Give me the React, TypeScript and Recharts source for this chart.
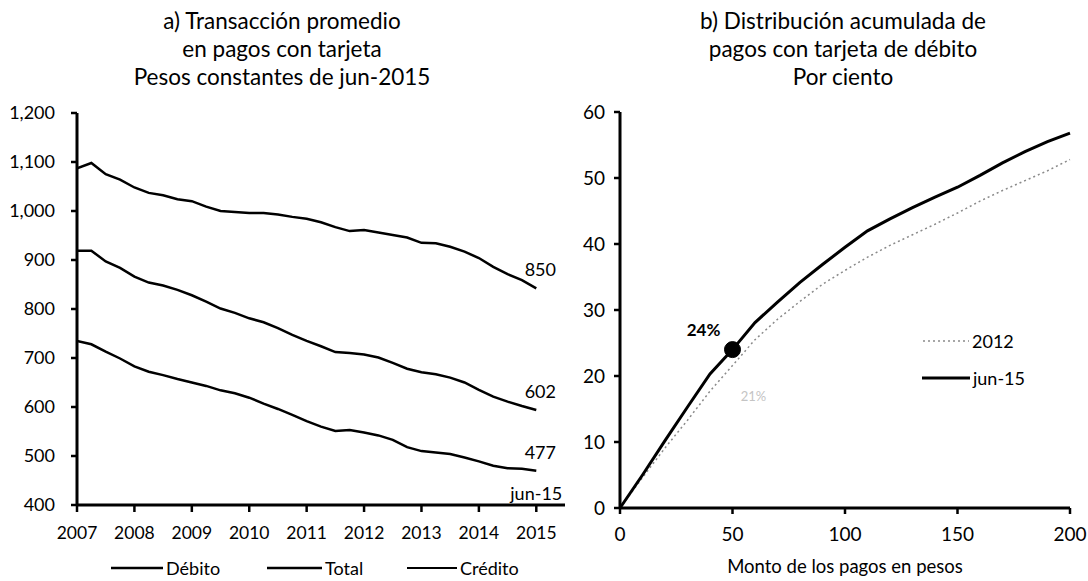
import { LineChart, Line, XAxis, YAxis, ReferenceDot } from 'recharts'

// panel a) average ticket, constant pesos of jun-2015 (quarterly readings)
const QUARTERS = [2007, 2007.25, 2007.5, 2007.75, 2008, 2008.25, 2008.5, 2008.75, 2009, 2009.25, 2009.5, 2009.75, 2010, 2010.25, 2010.5, 2010.75, 2011, 2011.25, 2011.5, 2011.75, 2012, 2012.25, 2012.5, 2012.75, 2013, 2013.25, 2013.5, 2013.75, 2014, 2014.25, 2014.5, 2014.75, 2015]
const CREDITO = [1087, 1098, 1075, 1064, 1048, 1037, 1032, 1024, 1020, 1009, 1000, 998, 996, 996, 993, 988, 984, 977, 967, 959, 961, 956, 951, 946, 935, 934, 927, 917, 904, 886, 871, 859, 842]
const TOTAL = [919, 919, 897, 884, 866, 854, 848, 839, 828, 815, 801, 792, 781, 773, 761, 747, 735, 724, 712, 710, 707, 701, 690, 678, 671, 667, 660, 650, 635, 621, 611, 602, 594]
const DEBITO = [735, 728, 713, 699, 683, 672, 665, 657, 650, 643, 634, 628, 619, 607, 596, 584, 571, 560, 551, 553, 548, 542, 533, 518, 510, 507, 504, 497, 489, 480, 475, 474, 470]
const END_LABELS = ['850', '602', '477']
const YEAR_TICKS = [2007, 2008, 2009, 2010, 2011, 2012, 2013, 2014, 2015]
const PESO_TICKS = [400, 500, 600, 700, 800, 900, 1000, 1100, 1200]

// panel b) cumulative distribution of debit card payments
const MONTOS = [0, 10, 20, 30, 40, 50, 60, 70, 80, 90, 100, 110, 120, 130, 140, 150, 160, 170, 180, 190, 200]
const JUN15 = [0, 5, 10.2, 15.3, 20.3, 24, 28.1, 31.2, 34.2, 36.9, 39.5, 42, 43.8, 45.5, 47.1, 48.6, 50.4, 52.3, 54, 55.5, 56.8]
const Y2012 = [0, 4.6, 9.1, 13.3, 17.7, 21.6, 25.5, 28.6, 31.3, 33.9, 36, 38, 39.8, 41.4, 43, 44.7, 46.5, 48.1, 49.6, 51.1, 52.8]
const MONTO_TICKS = [0, 50, 100, 150, 200]
const PCT_TICKS = [0, 10, 20, 30, 40, 50, 60]

const seriesA = QUARTERS.map((x, i) => ({ x, credito: CREDITO[i], total: TOTAL[i], debito: DEBITO[i] }))
const seriesB = MONTOS.map((x, i) => ({ x, jun15: JUN15[i], y2012: Y2012[i] }))

const FONT = 'Lato, "Open Sans", sans-serif'
const axisLine = { stroke: '#000', strokeWidth: 3 }
const tickLine = { stroke: '#000', strokeWidth: 2.5 }

const PctLabel = ({ viewBox, text, dx, dy, bold, color, size }: any) => (
  <text x={viewBox.x + viewBox.width / 2 + dx} y={viewBox.y + viewBox.height / 2 + dy} textAnchor="middle"
    fontSize={size} fontWeight={bold ? 700 : 400} fill={color} fontFamily={FONT}>{text}</text>
)

const Title = ({ lines, cx }: { lines: string[]; cx: number }) => (
  <div style={{ position: 'absolute', left: cx - 220, top: 7, width: 440, textAlign: 'center', fontSize: 22.5, lineHeight: '28px', color: '#000' }}>
    {lines.map(l => <div key={l}>{l}</div>)}
  </div>
)

const LegendItem = ({ left, top, label, dash, w = 52, width = 2.5, color = '#000' }: any) => (
  <div style={{ position: 'absolute', left, top, display: 'flex', alignItems: 'center', fontSize: 18, color: '#000' }}>
    <svg width={w} height={10}><line x1={0} y1={5} x2={w} y2={5} stroke={color} strokeWidth={width} strokeDasharray={dash} /></svg>
    <span style={{ marginLeft: 3 }}>{label}</span>
  </div>
)

export default function App() {
  return (
    <div style={{ position: 'absolute', left: 0, top: 0, width: 1088, height: 581, background: '#fff', fontFamily: FONT, overflow: 'hidden' }}>
      <Title cx={282} lines={['a) Transacción promedio', 'en pagos con tarjeta', 'Pesos constantes de jun-2015']} />
      <Title cx={843} lines={['b) Distribución acumulada de', 'pagos con tarjeta de débito', 'Por ciento']} />

      <div style={{ position: 'absolute', left: 0, top: 0 }}>
        <LineChart width={580} height={581} data={seriesA} margin={{ top: 113, right: 15, bottom: 26, left: 0 }}>
          <XAxis dataKey="x" type="number" domain={[2007, 2015.5]} ticks={YEAR_TICKS} allowDataOverflow
            axisLine={axisLine} tickLine={tickLine} tickSize={7} tickMargin={15} height={50}
            tick={{ fill: '#000', fontSize: 17.5 }} />
          <YAxis domain={[400, 1200]} ticks={PESO_TICKS} width={77} interval={0}
            tickFormatter={(v: number) => v.toLocaleString('en-US')}
            axisLine={axisLine} tickLine={tickLine} tickSize={6} tickMargin={16}
            tick={{ fill: '#000', fontSize: 18 }} />
          <Line dataKey="credito" stroke="#000" strokeWidth={2.5} dot={false} isAnimationActive={false} />
          <Line dataKey="total" stroke="#000" strokeWidth={2.5} dot={false} isAnimationActive={false} />
          <Line dataKey="debito" stroke="#000" strokeWidth={2.5} dot={false} isAnimationActive={false} />
          {[CREDITO, TOTAL, DEBITO].map((s, i) => (
            <ReferenceDot key={i} x={2015} y={s[s.length - 1]} r={0} fill="none" stroke="none"
              label={{ value: END_LABELS[i], position: 'top', offset: 12, fill: '#000', fontSize: 18, dx: 4 }} />
          ))}
          <ReferenceDot x={2015} y={400} r={0} fill="none" stroke="none"
            label={{ value: 'jun-15', position: 'top', offset: 5, fill: '#000', fontSize: 18, dx: 0 }} />
        </LineChart>
      </div>
      <LegendItem left={111} top={557} label="Débito" />
      <LegendItem left={267} top={557} label="Total" w={55} />
      <LegendItem left={407} top={557} label="Crédito" w={50} width={2} />

      <div style={{ position: 'absolute', left: 540, top: 0 }}>
        <LineChart width={548} height={581} data={seriesB} margin={{ top: 112, right: 18, bottom: 13, left: 0 }}>
          <XAxis dataKey="x" type="number" domain={[0, 200]} ticks={MONTO_TICKS}
            axisLine={axisLine} tickLine={tickLine} tickSize={6} tickMargin={14} height={60}
            tick={{ fill: '#000', fontSize: 19 }}
            label={{ value: 'Monto de los pagos en pesos', position: 'insideBottom', offset: -5, fill: '#000', fontSize: 18.5 }} />
          <YAxis domain={[0, 60]} ticks={PCT_TICKS} width={80} interval={0}
            axisLine={axisLine} tickLine={tickLine} tickSize={6} tickMargin={9}
            tick={{ fill: '#000', fontSize: 19 }} />
          <Line dataKey="y2012" stroke="#8a8a8a" strokeWidth={1.5} strokeDasharray="2 3" dot={false} isAnimationActive={false} />
          <Line dataKey="jun15" stroke="#000" strokeWidth={3} dot={false} isAnimationActive={false} />
          <ReferenceDot x={50} y={21} r={0} fill="none" stroke="none"
            label={<PctLabel text="21%" dx={21} dy={32} color="#c4c4c4" size={13} />} />
          <ReferenceDot x={50} y={24} r={8} fill="#000" stroke="#000"
            label={<PctLabel text="24%" dx={-29} dy={-14} bold color="#000" size={17} />} />
        </LineChart>
      </div>
      <LegendItem left={923} top={330} label="2012" w={46} width={1.5} dash="2 3" color="#8a8a8a" />
      <LegendItem left={922} top={367} label="jun-15" w={48} width={3} />
    </div>
  )
}
